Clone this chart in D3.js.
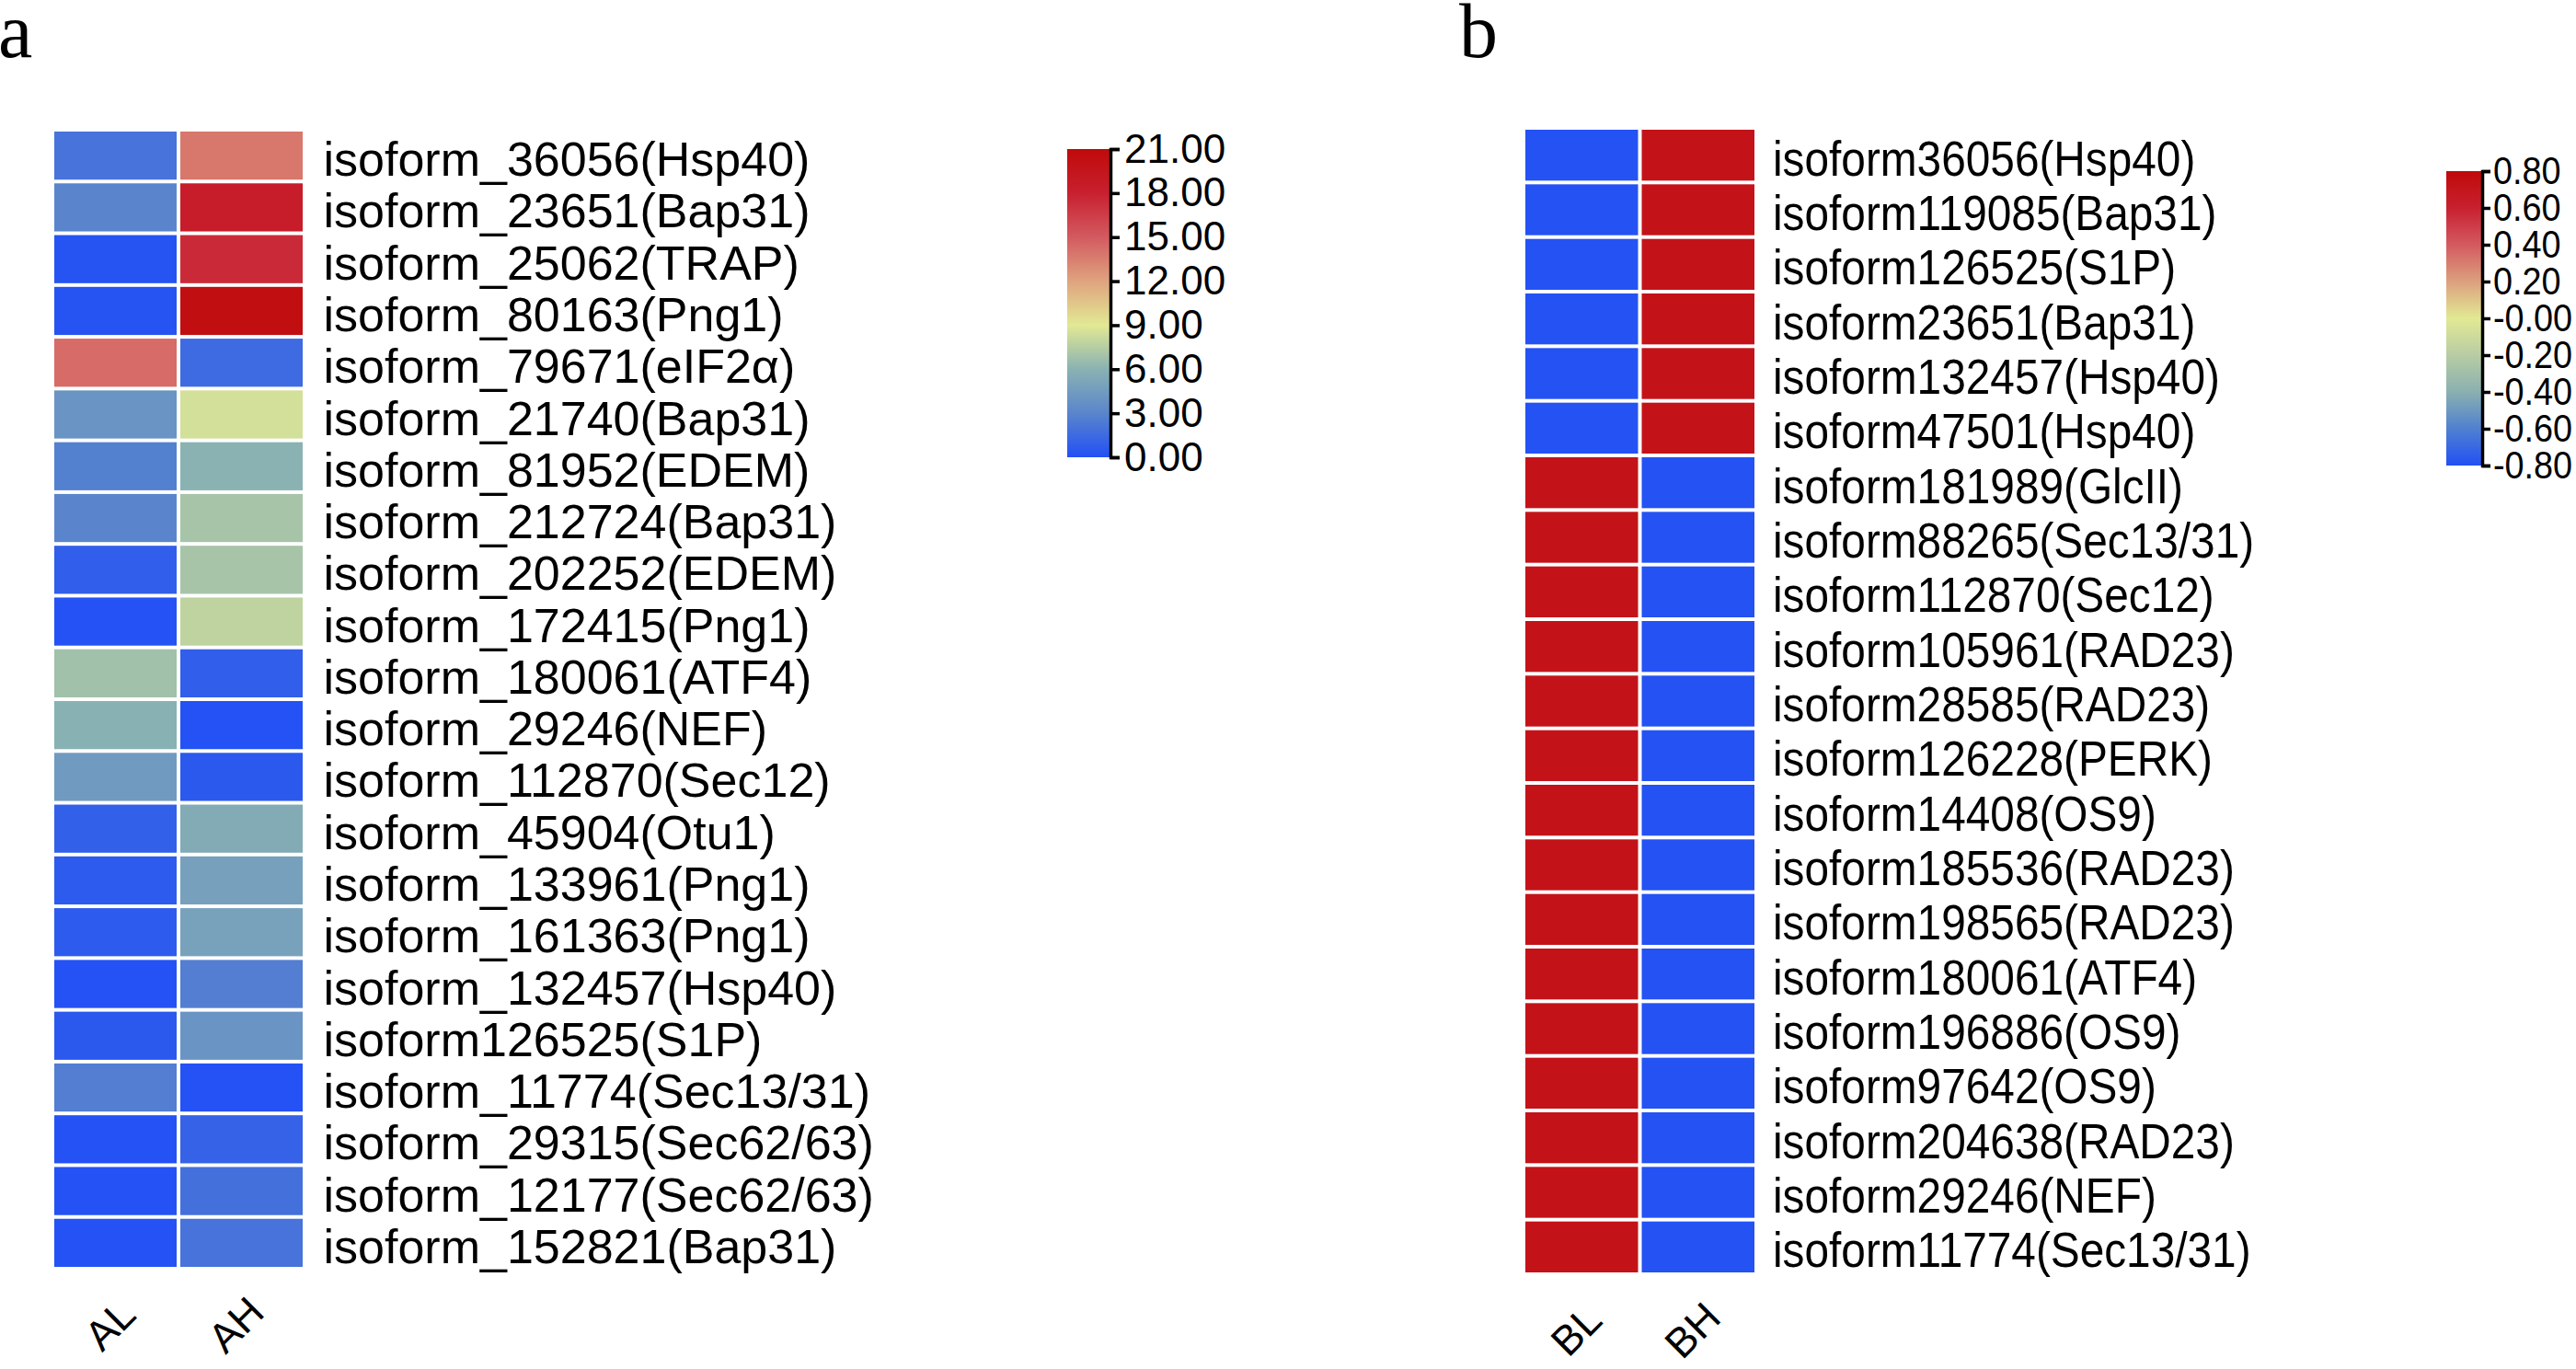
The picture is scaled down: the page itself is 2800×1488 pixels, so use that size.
<!DOCTYPE html>
<html>
<head>
<meta charset="utf-8">
<script src="https://cdn.jsdelivr.net/npm/d3@7"></script>
<style>
  html, body { margin: 0; padding: 0; background: #ffffff; }
  svg { display: block; }
</style>
</head>
<body>
<svg id="chart" width="2800" height="1488"></svg>
<script>
// ---------------- DATA ----------------
const colsA = ["AL", "AH"];
const rowsA = [
  "isoform_36056(Hsp40)", "isoform_23651(Bap31)", "isoform_25062(TRAP)", "isoform_80163(Png1)",
  "isoform_79671(eIF2α)", "isoform_21740(Bap31)", "isoform_81952(EDEM)", "isoform_212724(Bap31)",
  "isoform_202252(EDEM)", "isoform_172415(Png1)", "isoform_180061(ATF4)", "isoform_29246(NEF)",
  "isoform_112870(Sec12)", "isoform_45904(Otu1)", "isoform_133961(Png1)", "isoform_161363(Png1)",
  "isoform_132457(Hsp40)", "isoform126525(S1P)", "isoform_11774(Sec13/31)", "isoform_29315(Sec62/63)",
  "isoform_12177(Sec62/63)", "isoform_152821(Bap31)"
];
const valuesAL = [2.0, 3.0, 0.2, 0.2, 14.3, 4.0, 2.7, 3.0, 0.8, 0.1, 6.8, 5.9, 4.4, 0.9, 0.6, 0.6, 0.1, 0.5, 2.6, 0.1, 0.1, 0.1];
const valuesAH = [13.8, 18.5, 17.5, 20.5, 1.5, 8.5, 6.0, 7.0, 7.0, 7.8, 0.8, 0.1, 0.5, 5.5, 4.8, 4.9, 2.6, 4.0, 0.1, 1.0, 1.8, 2.0];
const ticksA = [0, 3, 6, 9, 12, 15, 18, 21];

const colsB = ["BL", "BH"];
const rowsB = [
  "isoform36056(Hsp40)", "isoform119085(Bap31)", "isoform126525(S1P)", "isoform23651(Bap31)",
  "isoform132457(Hsp40)", "isoform47501(Hsp40)", "isoform181989(GlcII)", "isoform88265(Sec13/31)",
  "isoform112870(Sec12)", "isoform105961(RAD23)", "isoform28585(RAD23)", "isoform126228(PERK)",
  "isoform14408(OS9)", "isoform185536(RAD23)", "isoform198565(RAD23)", "isoform180061(ATF4)",
  "isoform196886(OS9)", "isoform97642(OS9)", "isoform204638(RAD23)", "isoform29246(NEF)",
  "isoform11774(Sec13/31)"
];
const valuesBL = [-0.79, -0.79, -0.79, -0.79, -0.79, -0.79, 0.72, 0.72, 0.72, 0.72, 0.72, 0.72, 0.72, 0.72, 0.72, 0.72, 0.72, 0.72, 0.72, 0.72, 0.72];
const valuesBH = [0.72, 0.72, 0.72, 0.72, 0.72, 0.72, -0.79, -0.79, -0.79, -0.79, -0.79, -0.79, -0.79, -0.79, -0.79, -0.79, -0.79, -0.79, -0.79, -0.79, -0.79];
const ticksB = [-0.8, -0.6, -0.4, -0.2, 0, 0.2, 0.4, 0.6, 0.8];

// palette (styling)
const paletteA = ["#2250f5", "#5a85cc", "#8ab2b2", "#e2e994", "#dfa37f", "#d35a60", "#c8202f", "#c00a0a"];
const paletteB = ["#2250f5", "#5080d0", "#8ab0b0", "#b8cca4", "#e2e994", "#dca07e", "#d35a60", "#c8202f", "#c00a0a"];

// ---------------- DRAW ----------------
const svg = d3.select("#chart");
const SANS = "'Liberation Sans', Arial, Helvetica, sans-serif";
const SERIF = "'Liberation Serif', 'Times New Roman', serif";

function heatmap(cfg) {
  const g = svg.append("g");
  const x = d3.scaleBand().domain(cfg.cols).range(cfg.xRange);
  const y = d3.scaleBand().domain(cfg.rows).range(cfg.yRange);
  const color = d3.scaleLinear().domain(cfg.ticks).range(cfg.palette).clamp(true);
  const cells = [];
  cfg.rows.forEach((r, i) => {
    cells.push({ row: r, col: cfg.cols[0], v: cfg.v1[i] });
    cells.push({ row: r, col: cfg.cols[1], v: cfg.v2[i] });
  });
  const inset = 2;
  g.selectAll("rect.cell").data(cells).join("rect")
    .attr("class", "cell")
    .attr("x", d => x(d.col) + inset)
    .attr("y", d => y(d.row) + inset)
    .attr("width", x.bandwidth() - 2 * inset)
    .attr("height", y.bandwidth() - 2 * inset)
    .attr("fill", d => color(d.v));

  // row labels
  g.selectAll("text.rowlab").data(cfg.rows).join("text")
    .attr("class", "rowlab")
    .attr("transform", d => `translate(${cfg.labelX},${y(d) + y.bandwidth() / 2 + cfg.baseOff}) scale(${cfg.sx},1)`)
    .attr("font-family", SANS)
    .attr("font-size", cfg.fontSize)
    .attr("fill", "#000")
    .text(d => d);

  // column labels (rotated)
  const bottom = cfg.yRange[1];
  g.selectAll("text.collab").data(cfg.cols).join("text")
    .attr("class", "collab")
    .attr("transform", d => `translate(${x(d) + x.bandwidth() / 2 - 6},${bottom + 61}) rotate(-45)`)
    .attr("text-anchor", "middle")
    .attr("dominant-baseline", "central")
    .attr("font-family", SANS)
    .attr("font-size", 45)
    .attr("fill", "#000")
    .text(d => d);

  // colour bar
  const gradId = "grad" + cfg.id;
  const grad = svg.append("defs").append("linearGradient")
    .attr("id", gradId).attr("x1", 0).attr("y1", 1).attr("x2", 0).attr("y2", 0);
  const lo = cfg.ticks[0], hi = cfg.ticks[cfg.ticks.length - 1];
  cfg.ticks.forEach((t, i) => {
    grad.append("stop").attr("offset", (t - lo) / (hi - lo)).attr("stop-color", cfg.palette[i]);
  });
  const cb = cfg.cbar;
  const ys = d3.scaleLinear().domain([lo, hi]).range([cb.y1, cb.y0]);
  g.append("rect")
    .attr("x", cb.x0).attr("y", cb.y0)
    .attr("width", cb.x1 - cb.x0).attr("height", cb.y1 - cb.y0)
    .attr("fill", `url(#${gradId})`);
  const axis = d3.axisRight(ys).tickValues(cfg.ticks)
    .tickSize(cb.tick).tickSizeOuter(cb.tick).tickPadding(cb.pad)
    .tickFormat(cfg.fmt);
  const ag = g.append("g").attr("transform", `translate(${cb.x1},0)`).call(axis);
  ag.select(".domain").attr("stroke", "#000").attr("stroke-width", 3.5);
  ag.selectAll(".tick line").attr("stroke", "#000").attr("stroke-width", 3.5);
  ag.selectAll(".tick text")
    .attr("font-family", SANS).attr("font-size", cb.fs).attr("fill", "#000")
    .attr("x", (cb.tick + cb.pad) / cb.sx)
    .attr("transform", `scale(${cb.sx},1)`);
}

heatmap({
  id: "A", cols: colsA, rows: rowsA, v1: valuesAL, v2: valuesAH,
  ticks: ticksA, palette: paletteA,
  xRange: [57, 331], yRange: [141, 1379],
  labelX: 351.5, baseOff: 22, fontSize: 52, sx: 1,
  cbar: { x0: 1160, x1: 1207, y0: 162, y1: 497, tick: 10, pad: 5, sx: 1, fs: 44 },
  fmt: d3.format(".2f")
});

heatmap({
  id: "B", cols: colsB, rows: rowsB, v1: valuesBL, v2: valuesBH,
  ticks: ticksB, palette: paletteB,
  xRange: [1656, 1909], yRange: [139, 1385],
  labelX: 1927, baseOff: 22, fontSize: 54, sx: 0.885,
  cbar: { x0: 2659, x1: 2698, y0: 186, y1: 506, tick: 9, pad: 3, sx: 0.9, fs: 42 },
  fmt: d => (d <= 0 ? "-" : "") + d3.format(".2f")(Math.abs(d))
});

// panel letters
svg.append("text").attr("x", -2).attr("y", 62)
  .attr("font-family", SERIF).attr("font-size", 84).attr("fill", "#000").text("a");
svg.append("text").attr("x", 1586).attr("y", 62)
  .attr("font-family", SERIF).attr("font-size", 84).attr("fill", "#000").text("b");
</script>
</body>
</html>
